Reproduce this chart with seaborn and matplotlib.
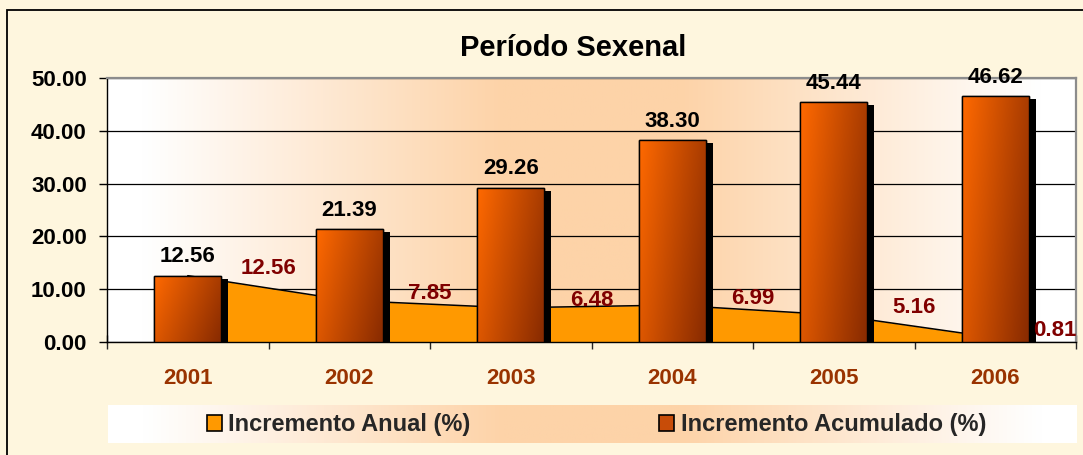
import numpy as np
import matplotlib.pyplot as plt
import matplotlib.patheffects as pe
from matplotlib.patches import Patch, Rectangle
import seaborn as sns

# data
years = ['2001', '2002', '2003', '2004', '2005', '2006']
acumulado = [12.56, 21.39, 29.26, 38.30, 45.44, 46.62]
anual = [12.56, 7.85, 6.48, 6.99, 5.16, 0.81]
y_ticks = [0, 10, 20, 30, 40, 50]

sns.set_style('white')
plt.rcParams['font.family'] = ['Liberation Sans', 'DejaVu Sans']
plt.rcParams['font.weight'] = 'bold'

W, H = 1083, 455
fig = plt.figure(figsize=(W / 100, H / 100), dpi=100)
fig.patch.set_facecolor('#FEF6DE')

# outer chart border (only left and top are visible in the picture)
fig.add_artist(Rectangle((7 / W, -0.2), 1.2, (H - 10) / H + 0.2, transform=fig.transFigure,
                         fill=False, edgecolor='black', linewidth=1.3))


def side_gradient(n=400):
    u = np.linspace(0, 1, n)
    t = np.clip(1.35 * (1 - np.abs(2 * u - 1)) - 0.1, 0, 1)
    white = np.array([1.0, 1.0, 1.0])
    peach = np.array([253, 211, 168]) / 255
    return (white[None, :] * (1 - t[:, None]) + peach[None, :] * t[:, None])[None, :, :]


ax = fig.add_axes([107 / W, (H - 342) / H, 969 / W, 264 / H])
ax.set_facecolor('none')

# legend strip background
lax = fig.add_axes([108 / W, (H - 443) / H, 969 / W, 38 / H])
lax.imshow(side_gradient(), aspect='auto', extent=(0, 1, 0, 1))
lax.axis('off')

# annual increase as an area behind the bars
x = np.arange(len(years))
ax.fill_between(x, anual, color='#FF9900', linewidth=0, zorder=1.5)
ax.plot(x, anual, color='black', linewidth=1.1, zorder=1.6)

# accumulated increase as bars
sns.barplot(x=years, y=acumulado, ax=ax, color='#E85A00', width=0.415,
            edgecolor='black', linewidth=1.0, zorder=3)

u = np.linspace(0, 1, 60)
uu, vv = np.meshgrid(u, u)
t = np.clip(0.72 * uu + 0.28 * vv, 0, 1)[..., None]
c0 = np.array([255, 105, 0]) / 255
c1 = np.array([135, 42, 0]) / 255
bar_grad = c0 * (1 - t) + c1 * t

for p in list(ax.patches):
    p.set_path_effects([pe.SimplePatchShadow(offset=(5.0, -2.2), shadow_rgbFace='black', alpha=1.0),
                        pe.Normal()])
    bb = p.get_bbox()
    im = ax.imshow(bar_grad, extent=(bb.x0, bb.x1, bb.y0, bb.y1), aspect='auto', zorder=3.1)
    im.set_clip_path(p)
    ax.add_patch(Rectangle((bb.x0, bb.y0), bb.width, bb.height, fill=False,
                           edgecolor='black', linewidth=1.0, zorder=3.2))

# plot area background gradient
ax.imshow(side_gradient(), extent=(-0.5, 5.5, 0, 50), aspect='auto', zorder=0)
ax.set_xlim(-0.5, 5.5)
ax.set_ylim(0, 50)

# labels
for i, v in enumerate(acumulado):
    ax.annotate(f'{v:.2f}', xy=(i, v), xytext=(0, 13.5), textcoords='offset points',
                ha='center', va='center', fontsize=16, fontweight='bold', color='black', zorder=5)
for i, v in enumerate(anual):
    xl = i + 0.5
    ha = 'center'
    if xl >= 5.5:
        xl, ha = 5.5, 'right'
    ax.annotate(f'{v:.2f}', xy=(xl, v), xytext=(0, 5), textcoords='offset points',
                ha=ha, va='center', fontsize=16, fontweight='bold', color='#800000', zorder=5)

# axes styling
ax.set_yticks(y_ticks)
ax.set_yticklabels([f'{v:.2f}' for v in y_ticks], fontsize=16, fontweight='bold')
ax.tick_params(axis='y', direction='out', length=6, width=1, pad=8.5, left=True, colors='black')
ax.set_xticks(x)
ax.set_xticklabels(years, fontsize=16, fontweight='bold', color='#993300')
ax.tick_params(axis='x', which='major', length=0, pad=19)
ax.set_xticks(np.arange(-0.5, 6, 1), minor=True)
ax.tick_params(axis='x', which='minor', direction='inout', length=10, width=1, bottom=True)
ax.set_xlabel('')
ax.set_ylabel('')
ax.set_axisbelow(True)
ax.yaxis.grid(True, color='black', linewidth=0.9)
ax.xaxis.grid(False)
for s in ['left', 'bottom']:
    ax.spines[s].set_color('black')
    ax.spines[s].set_linewidth(1.0)
for s in ['top', 'right']:
    ax.spines[s].set_color('#8C8C8C')
    ax.spines[s].set_linewidth(1.6)

fig.text(573 / W, (H - 56) / H, 'Período Sexenal', ha='center', va='baseline',
         fontsize=21, fontweight='bold', color='black')

handles = [Patch(facecolor='#FF9900', edgecolor='black', linewidth=1.2),
           Patch(facecolor='#C84C08', edgecolor='black', linewidth=1.2)]
fig.legend(handles, ['Incremento Anual (%)', 'Incremento Acumulado (%)'], loc='center',
           bbox_to_anchor=(596.5 / W, (H - 425) / H), ncol=2, frameon=False,
           prop={'size': 17, 'weight': 'bold'}, handlelength=0.64, handleheight=0.64,
           handletextpad=0.26, columnspacing=8.0, borderpad=0)

fig.savefig('out.png', dpi=100, facecolor=fig.get_facecolor())
